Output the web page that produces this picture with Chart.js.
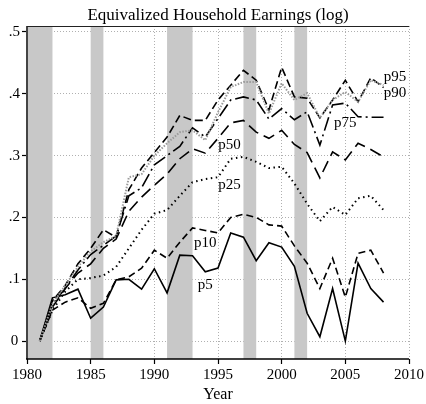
<!DOCTYPE html>
<html>
<head>
<meta charset="utf-8">
<script src="https://cdn.jsdelivr.net/npm/chart.js@4.4.1/dist/chart.umd.min.js"></script>
<style>
  html, body { margin: 0; padding: 0; background: #fff; }
</style>
</head>
<body>
<canvas id="chart" width="426" height="404"></canvas>
<script>
const SERIF = '"Liberation Serif", "DejaVu Serif", serif';

// --- Data ---
const years = [1981, 1982, 1983, 1984, 1985, 1986, 1987, 1988, 1989, 1990, 1991, 1992, 1993, 1994,
  1995, 1996, 1997, 1998, 1999, 2000, 2001, 2002, 2003, 2004, 2005, 2006, 2007, 2008];

const p5  = [0, .070, .075, .084, .037, .055, .099, .100, .084, .117, .078, .139, .138, .112, .118, .175, .168, .130, .159, .152, .121, .045, .007, .085, .000, .126, .085, .063];
const p10 = [0, .050, .063, .070, .053, .061, .099, .104, .118, .147, .134, .160, .183, .179, .175, .200, .205, .200, .188, .186, .154, .126, .085, .134, .071, .142, .147, .110];
const p25 = [0, .050, .080, .100, .102, .106, .120, .150, .180, .206, .212, .235, .257, .262, .265, .295, .298, .290, .280, .282, .255, .222, .194, .217, .204, .231, .235, .212];
const p50 = [0, .055, .085, .110, .125, .150, .165, .210, .233, .252, .270, .295, .311, .304, .328, .353, .357, .338, .328, .341, .318, .305, .264, .306, .293, .320, .310, .298];
const p75 = [0, .060, .085, .115, .140, .155, .170, .235, .248, .285, .300, .315, .345, .330, .360, .390, .395, .390, .359, .376, .358, .371, .317, .382, .385, .363, .362, .362];
const p90 = [0, .060, .090, .120, .145, .160, .170, .265, .270, .300, .320, .338, .341, .325, .370, .411, .419, .419, .368, .417, .390, .401, .361, .390, .403, .387, .422, .414];
const p95 = [0, .065, .090, .125, .150, .180, .168, .245, .280, .305, .330, .365, .357, .357, .390, .414, .438, .422, .374, .443, .395, .393, .361, .390, .422, .387, .426, .410];

// recession bands (years)
const bandStart = [1980, 1985, 1991, 1997, 2001];
const bandEnd   = [1982, 1986, 1993, 1998, 2002];

const xTicks = [1980, 1985, 1990, 1995, 2000, 2005, 2010];
const yTicks = [0, .1, .2, .3, .4, .5];
const yTickLabels = ['0', '.1', '.2', '.3', '.4', '.5'];

// series labels, placed in data units
const labelNames  = ['p95', 'p90', 'p75', 'p50', 'p25', 'p10', 'p5'];
const labelYears  = [2008.9, 2008.9, 2005.0, 1995.9, 1995.9, 1994.0, 1994.0];
const labelValues = [0.427, 0.401, 0.353, 0.317, 0.252, 0.159, 0.091];

function pts(arr) { return years.map((y, i) => ({ x: y, y: arr[i] })); }

function line(data, dash, color, width) {
  return {
    data: pts(data), borderColor: color || '#000', borderWidth: width || 1.6,
    borderDash: dash, pointRadius: 0, tension: 0, fill: false,
    borderCapStyle: 'butt', borderJoinStyle: 'miter'
  };
}

const decor = {
  id: 'decor',
  beforeDatasetsDraw(chart) {
    const { ctx, chartArea: a, scales: { x } } = chart;
    ctx.save();
    ctx.fillStyle = '#c8c8c8';
    bandStart.forEach((s, i) => {
      const x1 = x.getPixelForValue(s), x2 = x.getPixelForValue(bandEnd[i]);
      ctx.fillRect(x1, a.top, x2 - x1, a.bottom - a.top);
    });
    // axes over the bands
    ctx.strokeStyle = '#444';
    ctx.lineWidth = 2;
    ctx.beginPath(); ctx.moveTo(a.left, a.top); ctx.lineTo(a.left, a.bottom); ctx.stroke();
    ctx.strokeStyle = '#000';
    ctx.lineWidth = 1.5;
    ctx.beginPath(); ctx.moveTo(a.left - 1, a.bottom); ctx.lineTo(a.right, a.bottom); ctx.stroke();
    ctx.lineWidth = 1;
    ctx.strokeStyle = '#222';
    ctx.beginPath(); ctx.moveTo(a.left, a.top + 0.5); ctx.lineTo(a.right, a.top + 0.5); ctx.stroke();
    ctx.restore();
  },
  afterDraw(chart) {
    const { ctx, chartArea: a, scales: { x, y } } = chart;
    ctx.save();
    ctx.fillStyle = '#000';
    ctx.textAlign = 'center';
    ctx.textBaseline = 'alphabetic';
    ctx.font = '17px ' + SERIF;
    ctx.fillText('Equivalized Household Earnings (log)', (a.left + a.right) / 2, 20);
    ctx.font = '15px ' + SERIF;
    ctx.textBaseline = 'middle';
    labelNames.forEach((n, i) => {
      ctx.fillText(n, x.getPixelForValue(labelYears[i]), y.getPixelForValue(labelValues[i]));
    });
    ctx.restore();
  }
};

new Chart(document.getElementById('chart'), {
  type: 'line',
  data: {
    datasets: [
      line(p90, [1.5, 1.5], '#9a9a9a', 2),
      line(p25, [1.5, 3.5], '#000', 2),
      line(p5, []),
      line(p10, [7, 4]),
      line(p50, [12, 6]),
      line(p75, [14, 4, 2, 4]),
      line(p95, [8, 4])
    ]
  },
  options: {
    responsive: false,
    animation: false,
    events: [],
    layout: { padding: { top: 26, right: 17, left: 0, bottom: 0 } },
    plugins: { legend: { display: false }, tooltip: { enabled: false }, title: { display: false } },
    scales: {
      x: {
        type: 'linear', min: 1980, max: 2010,
        afterBuildTicks: s => { s.ticks = xTicks.map(v => ({ value: v })); },
        afterFit: s => { s.height = 45; },
        ticks: { color: '#000', font: { family: SERIF, size: 15 }, padding: 2, maxRotation: 0, callback: v => String(v) },
        grid: {
          color: c => (c.tick && c.tick.value >= 1990) ? '#b0b0b0' : 'rgba(0,0,0,0)',
          lineWidth: 1, tickColor: '#000', tickLength: 5, tickWidth: 1.2
        },
        border: { display: false, dash: [1, 2] },
        title: { display: true, text: 'Year', color: '#000', font: { family: SERIF, size: 16 }, padding: { top: 0, bottom: 0 } }
      },
      y: {
        type: 'linear', min: -0.029, max: 0.5097,
        afterBuildTicks: s => { s.ticks = yTicks.map(v => ({ value: v })); },
        afterFit: s => { s.width = 27; },
        ticks: {
          color: '#000', font: { family: SERIF, size: 15 }, padding: 2, crossAlign: 'center',
          callback: (v, i) => yTickLabels[i]
        },
        grid: { color: '#b0b0b0', lineWidth: 1, tickColor: '#000', tickLength: 5, tickWidth: 1.2 },
        border: { display: false, dash: [1, 2] }
      }
    }
  },
  plugins: [decor]
});
</script>
</body>
</html>
